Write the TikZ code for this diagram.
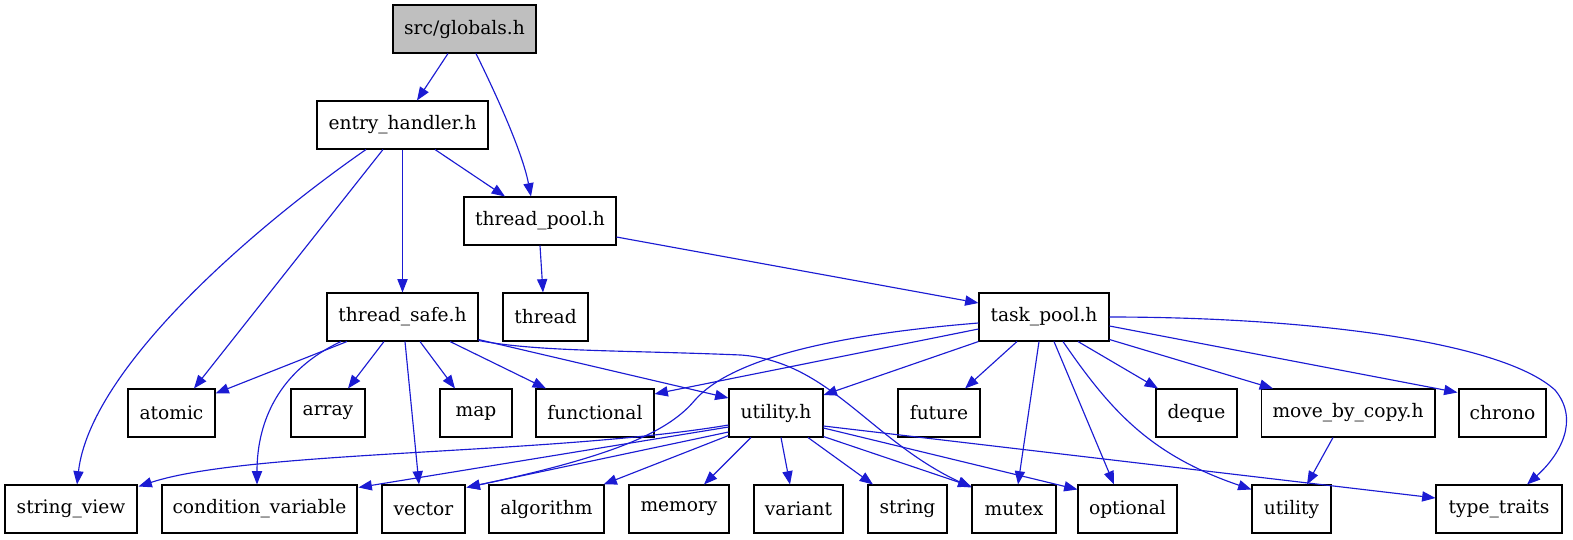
\documentclass[tikz,border=0pt]{standalone}
\usepackage{fontspec}
\setmainfont{DejaVu Serif}
\usetikzlibrary{calc}
\usetikzlibrary{arrows.meta}
\definecolor{edgeblue}{RGB}{27,27,211}
\definecolor{rootgray}{RGB}{191,191,191}

\begin{document}
\begin{tikzpicture}[x=0.02cm, y=-0.02cm,
    file/.style={draw=black, line width=0.6pt, fill=white, minimum height=0.96cm, inner sep=0pt, font=\fontsize{10.6}{12}\selectfont},
    inc/.style={draw=edgeblue, line width=0.65pt, -{Triangle[length=7.6pt, width=5.8pt]}}]

    \useasboundingbox (0,0) rectangle (1573,539);

    % headers of the project
    \node[file, fill=rootgray, minimum width=2.86cm] (globals) at (464.5,29) {src/globals.h};
    \node[file, minimum width=3.42cm] (entry) at (402.5,125) {entry\_handler.h};
    \node[file, minimum width=3.04cm] (tpool) at (540,221) {thread\_pool.h};
    \node[file, minimum width=3.02cm] (tsafe) at (402.5,317) {thread\_safe.h};
    \node[file, minimum width=1.70cm] (thread) at (545.5,317) {thread};
    \node[file, minimum width=2.60cm] (taskp) at (1044,317) {task\_pool.h};

    \node[file, minimum width=1.74cm] (atomic) at (171.5,413) {atomic};
    \node[file, minimum width=1.48cm] (array) at (328,413) {array};
    \node[file, minimum width=1.44cm] (map) at (476,413) {map};
    \node[file, minimum width=2.36cm] (functional) at (595,413) {functional};
    \node[file, minimum width=1.88cm] (utilh) at (776,413) {utility.h};
    \node[file, minimum width=1.64cm] (future) at (939,413) {future};
    \node[file, minimum width=1.62cm] (deque) at (1196.5,413) {deque};
    \node[file, minimum width=3.48cm] (movecopy) at (1348,413) {move\_by\_copy.h};
    \node[file, minimum width=1.74cm] (chrono) at (1502.5,413) {chrono};

    \node[file, minimum width=2.64cm] (sview) at (71,509) {string\_view};
    \node[file, minimum width=3.90cm] (condvar) at (259.5,509) {condition\_variable};
    \node[file, minimum width=1.66cm] (vector) at (423.5,509) {vector};
    \node[file, minimum width=2.30cm] (algorithm) at (546.5,509) {algorithm};
    \node[file, minimum width=2.00cm] (memory) at (679,509) {memory};
    \node[file, minimum width=1.78cm] (variant) at (798.5,509) {variant};
    \node[file, minimum width=1.58cm] (string) at (907.5,509) {string};
    \node[file, minimum width=1.68cm] (mutex) at (1014,509) {mutex};
    \node[file, minimum width=1.98cm] (optional) at (1127.5,509) {optional};
    \node[file, minimum width=1.58cm] (utility) at (1291.5,509) {utility};
    \node[file, minimum width=2.52cm] (ttraits) at (1499,509) {type\_traits};

    % includes
    \draw[inc] ($(globals.south)+(-16.5,0)$) -- ($(entry.north)+(14.5,0)$);
    \draw[inc] ($(globals.south)+(11.5,0)$) .. controls (493,88) and (522,150) .. ($(tpool.north)+(-9,0)$);
    \draw[inc] ($(entry.south)+(32.5,0)$) -- ($(tpool.north)+(-35,0)$);
    \draw[inc] ($(entry.south)+(-36.5,0)$) .. controls (250,230) and (90,370) .. ($(sview.north)+(6,0)$);
    \draw[inc] ($(entry.south)+(-19.5,0)$) -- ($(atomic.north)+(22.5,0)$);
    \draw[inc] (entry.south) -- (tsafe.north);
    \draw[inc] (tpool.south) -- ($(thread.north)+(-2.5,0)$);
    \draw[inc] ($(tpool.east)+(0,16)$) -- ($(taskp.west)+(0,-14)$);

    \draw[inc] ($(tsafe.south)+(-55.5,0)$) -- ($(atomic.north east)+(0,5)$);
    \draw[inc] ($(tsafe.south)+(-61.5,0)$) .. controls (280,370) and (257,420) .. ($(condvar.north)+(-2.5,0)$);
    \draw[inc] ($(tsafe.south)+(-18.5,0)$) -- ($(array.north)+(20,0)$);
    \draw[inc] ($(tsafe.south)+(2.5,0)$) -- ($(vector.north)+(-4.5,0)$);
    \draw[inc] ($(tsafe.south)+(17.5,0)$) -- ($(map.north)+(-21,0)$);
    \draw[inc] ($(tsafe.south)+(47.5,0)$) -- ($(functional.north)+(-49,0)$);
    \draw[inc] ($(tsafe.south east)+(0,-2)$) -- ($(utilh.west)+(0,-15)$);
    \draw[inc] ($(tsafe.south east)+(0,-1)$) .. controls (540,352) and (620,350) .. (741,355)
        .. controls (830,362) and (870,440) .. ($(mutex.north west)+(0,3)$);

    \draw[inc] ($(taskp.west)+(0,12)$) -- ($(functional.east)+(0,-19)$);
    \draw[inc] ($(taskp.west)+(0,6)$) .. controls (830,335) and (730,360) .. (695,400)
        .. controls (670,430) and (620,455) .. ($(vector.north east)+(1,3)$);
    \draw[inc] (taskp.south west) -- ($(utilh.east)+(0,-18)$);
    \draw[inc] ($(taskp.south)+(-27,0)$) -- ($(future.north)+(26,0)$);
    \draw[inc] ($(taskp.south)+(-5,0)$) -- ($(mutex.north)+(4,0)$);
    \draw[inc] ($(taskp.south)+(10,0)$) -- ($(optional.north)+(-13.5,0)$);
    \draw[inc] ($(taskp.south)+(19,0)$) .. controls (1110,410) and (1150,455) .. ($(utility.north west)+(0,5)$);
    \draw[inc] ($(taskp.south)+(34,0)$) -- ($(deque.north)+(-38.5,0)$);
    \draw[inc] ($(taskp.south east)+(0,-2)$) -- ($(movecopy.north)+(-75,0)$);
    \draw[inc] ($(taskp.east)+(0,9)$) -- ($(chrono.north west)+(-1,4)$);
    \draw[inc] (taskp.east) .. controls (1300,317) and (1500,340) .. (1555,390)
        .. controls (1580,420) and (1560,455) .. ($(ttraits.north)+(28,0)$);
    \draw[inc] ($(movecopy.south)+(-15,0)$) -- ($(utility.north)+(15.5,0)$);

    \draw[inc] ($(utilh.west)+(0,12)$) .. controls (550,455) and (250,450) .. ($(sview.north east)+(1,2)$);
    \draw[inc] ($(utilh.west)+(0,14)$) -- ($(condvar.north east)+(1,3)$);
    \draw[inc] ($(utilh.west)+(0,19)$) -- ($(vector.north east)+(1,3)$);
    \draw[inc] ($(utilh.south west)+(0,-2)$) -- ($(algorithm.north east)+(-1,0)$);
    \draw[inc] ($(utilh.south)+(-25,0)$) -- ($(memory.north)+(25,0)$);
    \draw[inc] ($(utilh.south)+(5,0)$) -- ($(variant.north)+(-8.5,0)$);
    \draw[inc] ($(utilh.south)+(32,0)$) -- ($(string.north)+(-34.5,0)$);
    \draw[inc] ($(utilh.south east)+(0,-1)$) -- ($(mutex.north west)+(0,2)$);
    \draw[inc] ($(utilh.east)+(0,15)$) -- ($(optional.north west)+(0,5)$);
    \draw[inc] ($(utilh.east)+(0,13)$) -- ($(ttraits.west)+(0,-11)$);
\end{tikzpicture}
\end{document}
